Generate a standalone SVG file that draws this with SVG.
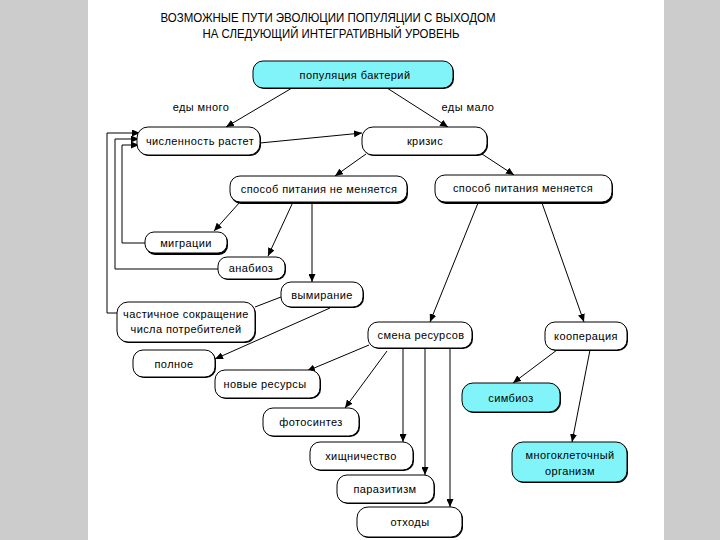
<svg xmlns="http://www.w3.org/2000/svg" width="720" height="540" viewBox="0 0 720 540">
<defs>
<marker id="ah" markerUnits="userSpaceOnUse" markerWidth="8" markerHeight="7" refX="8" refY="3.5" orient="auto">
<path d="M0,0 L8,3.5 L0,7 z" fill="#000"/>
</marker>
</defs>
<style>
.bg{fill:#cccccc}
.box{fill:#ffffff;stroke:#000;stroke-width:1}
.cy{fill:#80f4f8;stroke:#000;stroke-width:1}
.sh{fill:#000}
.t{font-family:"Liberation Sans",Arial,sans-serif;font-size:11px;letter-spacing:0.4px;fill:#000;text-anchor:middle;dominant-baseline:central}
.ttl{font-family:"Liberation Sans",Arial,sans-serif;font-size:12.5px;fill:#000;text-anchor:middle}
.c{fill:none;stroke:#000;stroke-width:1}
.a{fill:none;stroke:#000;stroke-width:1;marker-end:url(#ah)}
</style>
<rect x="0" y="0" width="720" height="540" fill="#ffffff"/>
<rect class="bg" x="0" y="0" width="88" height="540"/>
<rect class="bg" x="664" y="0" width="56" height="540"/>

<g id="title">
<text class="ttl" x="328" y="22" textLength="335" lengthAdjust="spacingAndGlyphs">ВОЗМОЖНЫЕ ПУТИ ЭВОЛЮЦИИ ПОПУЛЯЦИИ С ВЫХОДОМ</text>
<text class="ttl" x="331" y="38" textLength="257" lengthAdjust="spacingAndGlyphs">НА СЛЕДУЮЩИЙ ИНТЕГРАТИВНЫЙ УРОВЕНЬ</text>
</g>

<g id="connectors">
<line class="a" x1="292" y1="88" x2="226" y2="127"/>
<line class="a" x1="387" y1="88" x2="448" y2="127"/>
<line class="a" x1="260" y1="143" x2="362" y2="133"/>
<line class="a" x1="366" y1="154" x2="335" y2="176"/>
<line class="a" x1="482" y1="154" x2="514" y2="175"/>
<line class="a" x1="240" y1="202" x2="214" y2="231"/>
<line class="a" x1="293" y1="202" x2="268" y2="256"/>
<line class="a" x1="312" y1="202" x2="312" y2="282"/>
<line class="c" x1="281" y1="297" x2="255" y2="307"/>
<line class="a" x1="330" y1="308" x2="215" y2="359"/>
<line class="a" x1="478" y1="203" x2="430" y2="322"/>
<line class="a" x1="542" y1="203" x2="584" y2="322"/>
<line class="a" x1="557" y1="350" x2="513" y2="383"/>
<line class="a" x1="590" y1="350" x2="572" y2="442"/>
<line class="a" x1="369" y1="345" x2="307" y2="371"/>
<line class="a" x1="387" y1="351" x2="345" y2="408"/>
<line class="a" x1="403" y1="348" x2="403" y2="442"/>
<line class="a" x1="425" y1="348" x2="425" y2="475"/>
<line class="a" x1="450" y1="348" x2="450" y2="507"/>
<polyline class="a" points="117,313 107,313 107,133 140,133"/>
<polyline class="a" points="218,269 115,269 115,139 139,139"/>
<polyline class="a" points="145,243 122,243 122,145 139,145"/>
</g>

<g id="labels">
<text class="t" x="201" y="107">еды много</text>
<text class="t" x="468" y="107">еды мало</text>
</g>

<g id="n-population">
<rect class="sh" x="254" y="62" width="200" height="27" rx="10"/>
<rect class="cy" x="253" y="61" width="200" height="27" rx="10"/>
<text class="t" x="355" y="75">популяция бактерий</text>
</g>
<g id="n-growth">
<rect class="sh" x="138" y="128" width="123" height="28" rx="11"/>
<rect class="box" x="137" y="127" width="123" height="28" rx="11"/>
<text class="t" x="200" y="141">численность растет</text>
</g>
<g id="n-crisis">
<rect class="sh" x="363" y="128" width="125" height="28" rx="11"/>
<rect class="box" x="362" y="127" width="125" height="28" rx="11"/>
<text class="t" x="425" y="141">кризис</text>
</g>
<g id="n-same">
<rect class="sh" x="231" y="177" width="177" height="27" rx="10"/>
<rect class="box" x="230" y="176" width="177" height="26" rx="10"/>
<text class="t" x="319" y="189">способ питания не меняется</text>
</g>
<g id="n-change">
<rect class="sh" x="436" y="176" width="177" height="28" rx="10"/>
<rect class="box" x="435" y="175" width="177" height="27" rx="10"/>
<text class="t" x="523" y="188">способ питания меняется</text>
</g>
<g id="n-migration">
<rect class="sh" x="146" y="233" width="82" height="22" rx="9"/>
<rect class="box" x="145" y="232" width="82" height="21" rx="9"/>
<text class="t" x="186" y="243">миграции</text>
</g>
<g id="n-anabiosis">
<rect class="sh" x="219" y="258" width="67" height="22" rx="9"/>
<rect class="box" x="218" y="257" width="67" height="22" rx="9"/>
<text class="t" x="251" y="268">анабиоз</text>
</g>
<g id="n-extinction">
<rect class="sh" x="282" y="283" width="82" height="25" rx="10"/>
<rect class="box" x="281" y="282" width="82" height="25" rx="10"/>
<text class="t" x="322" y="295">вымирание</text>
</g>
<g id="n-partial">
<rect class="sh" x="118" y="303" width="138" height="40" rx="11"/>
<rect class="box" x="117" y="302" width="138" height="40" rx="11"/>
<text class="t" x="186" y="314">частичное сокращение</text>
<text class="t" x="186" y="329">числа потребителей</text>
</g>
<g id="n-full">
<rect class="sh" x="134" y="351" width="82" height="27" rx="10"/>
<rect class="box" x="133" y="350" width="82" height="27" rx="10"/>
<text class="t" x="174" y="364">полное</text>
</g>
<g id="n-resources">
<rect class="sh" x="369" y="323" width="104" height="26" rx="10"/>
<rect class="box" x="368" y="322" width="104" height="26" rx="10"/>
<text class="t" x="421" y="335">смена ресурсов</text>
</g>
<g id="n-coop">
<rect class="sh" x="546" y="323" width="82" height="28" rx="10"/>
<rect class="box" x="545" y="322" width="82" height="28" rx="10"/>
<text class="t" x="586" y="336">кооперация</text>
</g>
<g id="n-newres">
<rect class="sh" x="216" y="371" width="105" height="28" rx="10"/>
<rect class="box" x="215" y="370" width="105" height="28" rx="10"/>
<text class="t" x="265" y="384">новые ресурсы</text>
</g>
<g id="n-symbiosis">
<rect class="sh" x="463" y="384" width="98" height="29" rx="11"/>
<rect class="cy" x="462" y="383" width="98" height="29" rx="11"/>
<text class="t" x="511" y="398">симбиоз</text>
</g>
<g id="n-photo">
<rect class="sh" x="264" y="409" width="96" height="28" rx="10"/>
<rect class="box" x="263" y="408" width="96" height="28" rx="10"/>
<text class="t" x="311" y="422">фотосинтез</text>
</g>
<g id="n-predation">
<rect class="sh" x="311" y="443" width="103" height="28" rx="10"/>
<rect class="box" x="310" y="442" width="103" height="28" rx="10"/>
<text class="t" x="361" y="456">хищничество</text>
</g>
<g id="n-multicell">
<rect class="sh" x="513" y="443" width="115" height="40" rx="11"/>
<rect class="cy" x="512" y="442" width="115" height="40" rx="11"/>
<text class="t" x="570" y="455">многоклеточный</text>
<text class="t" x="570" y="471">организм</text>
</g>
<g id="n-parasitism">
<rect class="sh" x="338" y="476" width="97" height="28" rx="10"/>
<rect class="box" x="337" y="475" width="97" height="28" rx="10"/>
<text class="t" x="385" y="489">паразитизм</text>
</g>
<g id="n-waste">
<rect class="sh" x="358" y="508" width="105" height="30" rx="11"/>
<rect class="box" x="357" y="507" width="105" height="30" rx="11"/>
<text class="t" x="410" y="522">отходы</text>
</g>
</svg>
